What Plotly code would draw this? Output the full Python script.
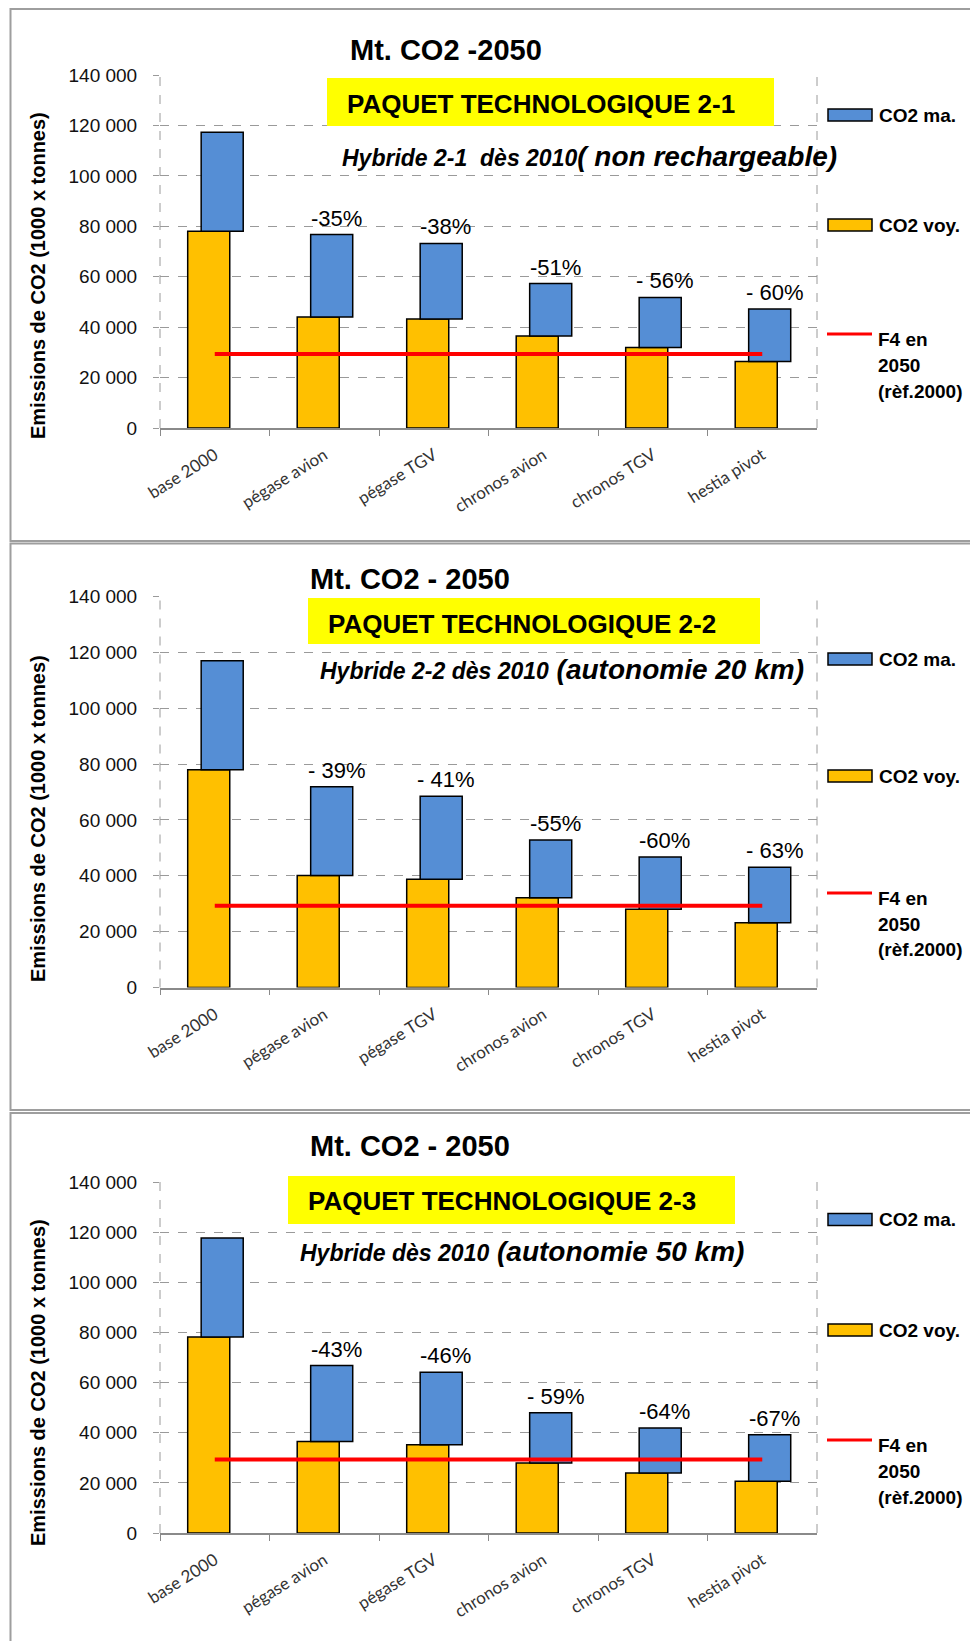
import plotly.graph_objects as go

W, H = 978, 1641
PAGE_OFFSET = 8  # the page puts the figure 8 px in from the top-left corner

# categories and values (1000 x tonnes CO2)
categories = ["base 2000", "pégase avion", "pégase TGV", "chronos avion", "chronos TGV", "hestia pivot"]

co2_voy_21 = [78000, 44000, 43200, 36500, 31900, 26400]
co2_ma_21 = [39300, 32700, 30000, 20800, 19900, 20800]
pct_21 = ["", "-35%", "-38%", "-51%", "- 56%", "- 60%"]

co2_voy_22 = [78000, 40100, 38800, 32100, 28000, 23200]
co2_ma_22 = [39000, 31800, 29700, 20700, 18700, 19900]
pct_22 = ["", "- 39%", "- 41%", "-55%", "-60%", "- 63%"]

co2_voy_23 = [78200, 36500, 35200, 27900, 23900, 20600]
co2_ma_23 = [39500, 30300, 28900, 20100, 18000, 18600]
pct_23 = ["", "-43%", "-46%", "- 59%", "-64%", "-67%"]

F4_TARGET = 29300

titles = ["Mt. CO2 -2050", "Mt. CO2 - 2050", "Mt. CO2 - 2050"]
packages = ["PAQUET TECHNOLOGIQUE 2-1", "PAQUET TECHNOLOGIQUE 2-2", "PAQUET TECHNOLOGIQUE 2-3"]
sub_small = ["Hybride 2-1  dès 2010", "Hybride 2-2 dès 2010", "Hybride dès 2010"]
sub_big = ["( non rechargeable)", " (autonomie 20 km)", " (autonomie 50 km)"]
legend_labels = ["CO2 ma.", "CO2 voy.", ["F4 en", "2050", "(rèf.2000)"]]
y_title = "Emissions de CO2 (1000 x tonnes)"

BLUE = "#558ED5"
YELLOW = "#FFC000"
RED = "#FF0000"
GRID = "#9a9a9a"
SANS = "Liberation Sans, Arial, sans-serif"


def px(x):
    return (x - PAGE_OFFSET) / W


def py(y):
    return 1 - (y - PAGE_OFFSET) / H


# pixel layout of each panel (screen coordinates)
panels = [
    dict(voy=co2_voy_21, ma=co2_ma_21, pct=pct_21, frame=(9, 541), plot=(75, 428),
         title=(446, 50), box=(327, 774, 78, 126), box_text=(345, 104),
         sub=(340, 156), ytitle=276, leg=(115, 225, 334), leg_txt=(339, 365, 391)),
    dict(voy=co2_voy_22, ma=co2_ma_22, pct=pct_22, frame=(543.5, 1110), plot=(596.5, 987.5),
         title=(410, 579), box=(308, 760, 598, 644), box_text=(326, 624),
         sub=(318, 669), ytitle=819, leg=(659, 776, 893), leg_txt=(898, 924, 950)),
    dict(voy=co2_voy_23, ma=co2_ma_23, pct=pct_23, frame=(1113, 1680), plot=(1182, 1533),
         title=(410, 1146), box=(288, 735, 1176, 1224), box_text=(306, 1201),
         sub=(298, 1251), ytitle=1383, leg=(1219.5, 1330, 1440), leg_txt=(1445, 1471, 1497)),
]

fig = go.Figure()
shapes = []
annotations = []
layout_axes = {}

for i, p in enumerate(panels):
    n = "" if i == 0 else str(i + 1)
    xa, ya = "x" + n, "y" + n

    # passenger emissions (bottom) and freight emissions (top, shifted right)
    fig.add_trace(go.Bar(
        x=categories, y=p["voy"], xaxis=xa, yaxis=ya,
        width=0.384, offset=-0.247,
        marker=dict(color=YELLOW, line=dict(color="black", width=1.5)),
        showlegend=False
    ))
    fig.add_trace(go.Bar(
        x=categories, y=p["ma"], base=p["voy"], xaxis=xa, yaxis=ya,
        width=0.384, offset=-0.124,
        marker=dict(color=BLUE, line=dict(color="black", width=1.5)),
        showlegend=False
    ))
    # factor 4 target line
    fig.add_trace(go.Scatter(
        x=categories, y=[F4_TARGET] * len(categories), xaxis=xa, yaxis=ya,
        mode="lines", line=dict(color=RED, width=4), showlegend=False
    ))

    ybot, ytop = p["plot"]
    layout_axes["xaxis" + n] = dict(
        domain=[px(160), px(817)], anchor=ya, type="category", automargin=False,
        showline=True, linecolor="#8a8a8a", linewidth=1.5,
        ticks="outside", tickson="boundaries", ticklen=6, tickcolor="#8a8a8a",
        tickangle=-32, ticklabelstandoff=9,
        tickfont=dict(family="Lato, Open Sans, sans-serif", size=17, color="#333"),
        showgrid=False, fixedrange=True
    )
    layout_axes["yaxis" + n] = dict(
        domain=[py(ytop), py(ybot)], anchor=xa, range=[0, 140000], dtick=20000,
        tickformat=",d", showgrid=True, gridcolor=GRID, griddash="dash", gridwidth=1,
        zeroline=False, showline=False, automargin=False,
        ticks="outside", ticklen=6, tickcolor=GRID,
        ticklabelstandoff=12,
        tickfont=dict(family=SANS, size=19, color="#111")
    )

    # dashed left / right borders of the plot area
    for xd in (0, 1):
        shapes.append(dict(type="line", xref=xa + " domain", yref=ya + " domain",
                           x0=xd, x1=xd, y0=0, y1=1, layer="below",
                           line=dict(color=GRID, width=1, dash="dash")))

    # panel frame
    f0, f1 = p["frame"]
    shapes.append(dict(type="rect", xref="paper", yref="paper",
                       x0=px(10.5), x1=px(1000), y0=py(f1), y1=py(f0),
                       line=dict(color="#9e9e9e", width=2), layer="below"))

    # yellow banner
    bx0, bx1, by0, by1 = p["box"]
    shapes.append(dict(type="rect", xref="paper", yref="paper",
                       x0=px(bx0), x1=px(bx1), y0=py(by1), y1=py(by0),
                       fillcolor="#FFFF00", line=dict(width=0), layer="above"))

    annotations.append(dict(
        xref="paper", yref="paper", x=px(p["box_text"][0]), y=py(p["box_text"][1]),
        xanchor="left", yanchor="middle", showarrow=False, text=packages[i],
        font=dict(family=SANS, size=26, color="black", weight="bold")
    ))
    annotations.append(dict(
        xref="paper", yref="paper", x=px(p["title"][0]), y=py(p["title"][1]),
        xanchor="center", yanchor="middle", showarrow=False, text=titles[i],
        font=dict(family=SANS, size=29, color="black", weight="bold")
    ))
    sx, sy = p["sub"]
    annotations.append(dict(
        xref="paper", yref="paper", x=px(sx), y=py(sy),
        xanchor="left", yanchor="middle", showarrow=False,
        text="<span style='font-size:23px'>" + sub_small[i] + "</span>" + sub_big[i],
        font=dict(family=SANS, size=28, color="black", weight="bold", style="italic")
    ))
    annotations.append(dict(
        xref="paper", yref="paper", x=px(38), y=py(p["ytitle"]),
        xanchor="center", yanchor="middle", showarrow=False, text=y_title, textangle=-90,
        font=dict(family=SANS, size=20, color="black", weight="bold")
    ))

    # reduction labels above the blue bars
    for cat, v, m, t in zip(categories, p["voy"], p["ma"], p["pct"]):
        if t:
            annotations.append(dict(
                xref=xa, yref=ya, x=cat, y=v + m, xshift=12, yshift=2,
                xanchor="center", yanchor="bottom", showarrow=False, text=t,
                font=dict(family=SANS, size=22, color="black")
            ))

    # hand-drawn legend
    ly_ma, ly_voy, ly_f4 = p["leg"]
    for ly, col in ((ly_ma, BLUE), (ly_voy, YELLOW)):
        shapes.append(dict(type="rect", xref="paper", yref="paper",
                           x0=px(828), x1=px(872), y0=py(ly + 6), y1=py(ly - 6),
                           fillcolor=col, line=dict(color="black", width=1.5)))
    shapes.append(dict(type="line", xref="paper", yref="paper",
                       x0=px(827), x1=px(872), y0=py(ly_f4), y1=py(ly_f4),
                       line=dict(color=RED, width=3)))
    for ly, txt in ((ly_ma, legend_labels[0]), (ly_voy, legend_labels[1])):
        annotations.append(dict(
            xref="paper", yref="paper", x=px(877), y=py(ly),
            xanchor="left", yanchor="middle", showarrow=False, text=txt,
            font=dict(family=SANS, size=19, color="black", weight="bold")
        ))
    for ly, txt in zip(p["leg_txt"], legend_labels[2]):
        annotations.append(dict(
            xref="paper", yref="paper", x=px(876), y=py(ly),
            xanchor="left", yanchor="middle", showarrow=False, text=txt,
            font=dict(family=SANS, size=19, color="black", weight="bold")
        ))

fig.update_layout(
    width=W, height=H,
    margin=dict(l=0, r=0, t=0, b=0, autoexpand=False),
    paper_bgcolor="white", plot_bgcolor="white",
    barmode="overlay",
    separators=", ",
    shapes=shapes,
    annotations=annotations,
    **layout_axes
)

fig.write_html("out.html")
